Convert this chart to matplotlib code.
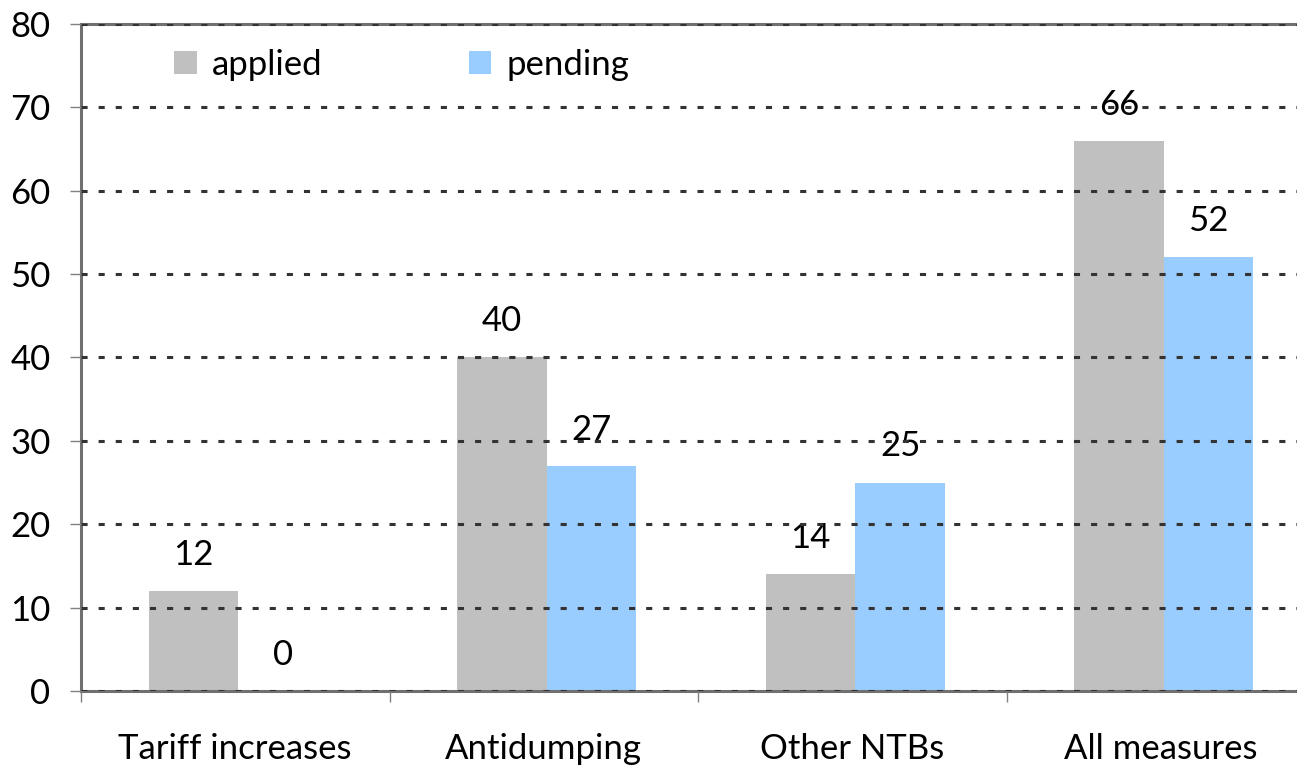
import numpy as np
import matplotlib
matplotlib.use('Agg')
from matplotlib import pyplot as plt

categories = ['Tariff increases', 'Antidumping', 'Other NTBs', 'All measures']
applied = [12, 40, 14, 66]
pending = [0, 27, 25, 52]
y_ticks = [0, 10, 20, 30, 40, 50, 60, 70, 80]

plt.rcParams['font.family'] = ['Lato', 'DejaVu Sans']
fs = 25

fig = plt.figure(figsize=(12.97, 7.69), dpi=100)
ax = fig.add_axes([81 / 1297, 78 / 769, 1234 / 1297, 667 / 769])

x = np.arange(len(categories))
w = 0.29
b1 = ax.bar(x - w / 2 + 0.01, applied, w, color='#C0C0C0', label='applied', zorder=2)
b2 = ax.bar(x + w / 2 + 0.01, pending, w, color='#99CCFF', label='pending', zorder=2)

for bars, vals in [(b1, applied), (b2, pending)]:
    for bar, v in zip(bars, vals):
        ax.annotate(str(v), (bar.get_x() + bar.get_width() / 2, v),
                    xytext=(0, 26), textcoords='offset points',
                    ha='center', va='center', fontsize=fs, zorder=1)

ax.set_xlim(-0.5, 3.5)
ax.set_ylim(0, 80)
ax.set_yticks(y_ticks)
ax.yaxis.grid(True, color='#333333', linewidth=2.2, linestyle=(0, (2, 3.6)), zorder=3)
ax.set_axisbelow(False)

ax.set_xticks(x)
ax.set_xticklabels(categories)
ax.set_xticks(np.arange(-0.5, 4, 1), minor=True)
ax.tick_params(axis='x', which='major', length=0, pad=30, labelsize=fs)
ax.tick_params(axis='x', which='minor', length=8, width=1, color='#808080', direction='out')
ax.tick_params(axis='y', length=8, width=1, color='#808080', pad=14, labelsize=fs)

for s in ['left', 'bottom', 'top']:
    ax.spines[s].set_color('#707070')
    ax.spines[s].set_linewidth(2.2)
ax.spines['right'].set_visible(False)

ax.legend(loc='upper left', bbox_to_anchor=(0.05, 1.01), ncol=2, frameon=False,
          fontsize=fs, handlelength=0.65, handleheight=0.65, handletextpad=0.45,
          columnspacing=4.2)

fig.savefig('out.png', dpi=100)
